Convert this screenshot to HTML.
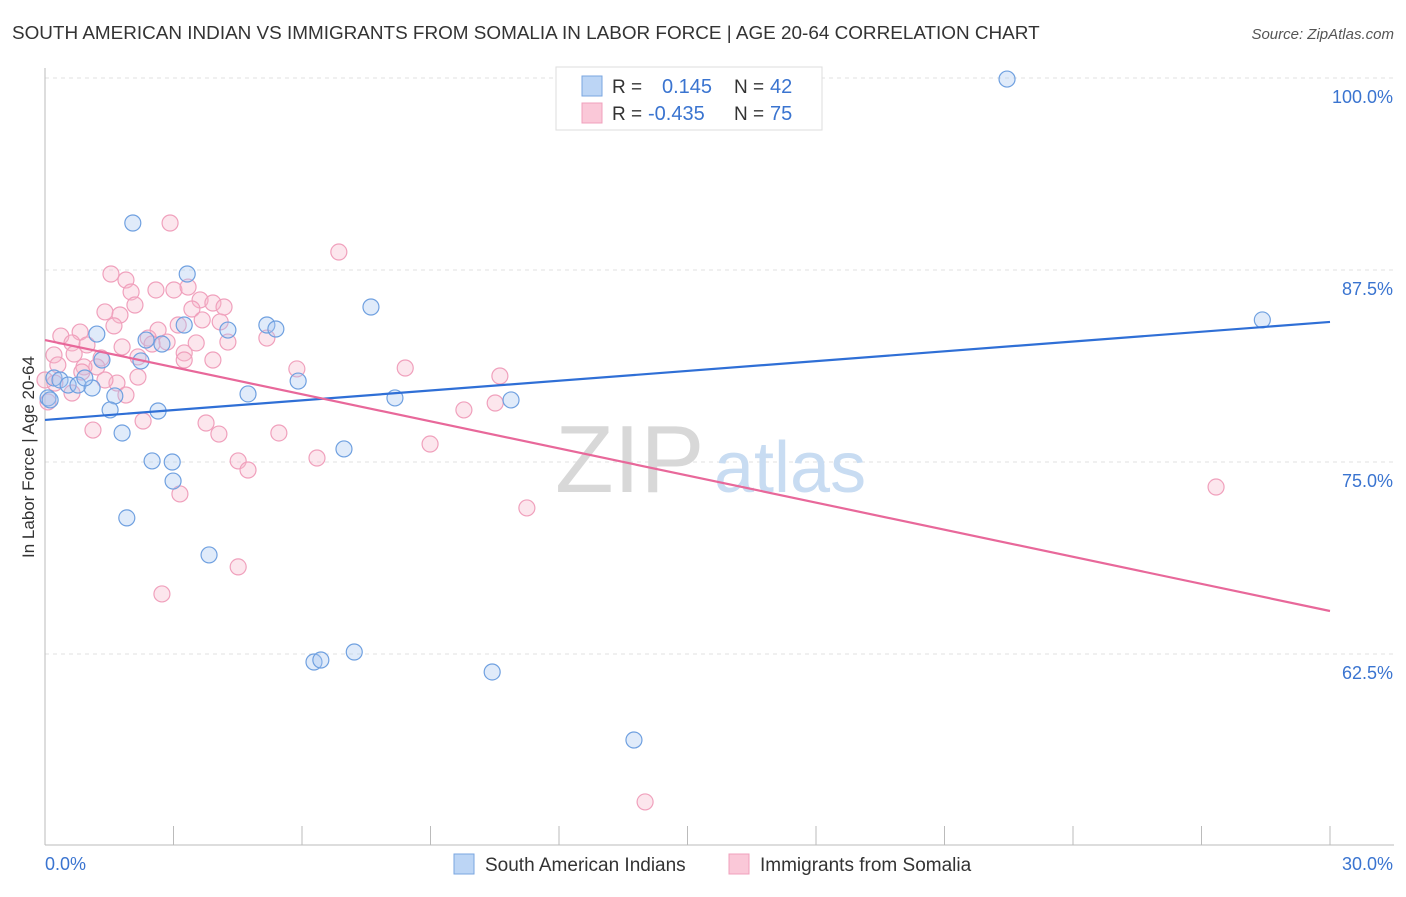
<!DOCTYPE html>
<html><head><meta charset="utf-8">
<style>
body{margin:0;background:#fff;font-family:"Liberation Sans",sans-serif;}
svg text{font-family:"Liberation Sans",sans-serif;}
</style></head>
<body>
<svg id="chart" width="1406" height="892" xmlns="http://www.w3.org/2000/svg">
<text x="12" y="39" font-size="18.9" fill="#333">SOUTH AMERICAN INDIAN VS IMMIGRANTS FROM SOMALIA IN LABOR FORCE | AGE 20-64 CORRELATION CHART</text>
<text x="1394" y="39" font-size="15" fill="#555" font-style="italic" text-anchor="end">Source: ZipAtlas.com</text>
<g id="grid"></g>
<g id="axes"></g>
<text x="555" y="492" font-size="96" fill="#d8d8d8" font-family="Liberation Serif">ZIP</text>
<text x="714" y="492" font-size="72" fill="#c8dcf2">atlas</text>
<g id="pts"></g>
<g id="lines"></g>
<text transform="translate(34,457) rotate(-90)" font-size="17" fill="#333" text-anchor="middle">In Labor Force | Age 20-64</text>
<g>
<rect x="556" y="67" width="266" height="63" fill="#fff" stroke="#ddd"/>
<rect x="582" y="76" width="20" height="20" fill="#bcd5f5" stroke="#7aa6e0"/>
<rect x="582" y="103" width="20" height="20" fill="#fac8d8" stroke="#f0a0bc"/>
<text x="612" y="93" font-size="19" fill="#333">R =</text>
<text x="662" y="93" font-size="20" fill="#3a74d0">0.145</text>
<text x="734" y="93" font-size="19" fill="#333">N =</text>
<text x="770" y="93" font-size="20" fill="#3a74d0">42</text>
<text x="612" y="120" font-size="19" fill="#333">R =</text>
<text x="648" y="120" font-size="20" fill="#3a74d0">-0.435</text>
<text x="734" y="120" font-size="19" fill="#333">N =</text>
<text x="770" y="120" font-size="20" fill="#3a74d0">75</text>
</g>
<g>
<rect x="454" y="854" width="20" height="20" fill="#bcd5f5" stroke="#7aa6e0"/>
<text x="485" y="871" font-size="19" fill="#333">South American Indians</text>
<rect x="729" y="854" width="20" height="20" fill="#fac8d8" stroke="#f0a0bc"/>
<text x="760" y="871" font-size="19" fill="#333">Immigrants from Somalia</text>
</g>
</svg>
<script>
const blueX=[22.46,2.05,3.32,7.61,28.42,5.18,5.39,3.25,4.27,1.21,2.36,2.73,2.24,1.33,0.21,0.35,0.54,0.77,1.10,0.93,5.91,4.74,8.17,10.88,1.63,1.52,2.64,1.80,6.98,2.50,2.97,2.99,1.91,3.83,6.28,6.44,7.22,10.44,13.75,0.07,0.12];
const blueY=[99.93,90.56,87.24,85.09,84.25,83.92,83.66,83.92,83.59,83.33,82.94,82.68,81.58,81.64,80.47,80.34,80.01,80.01,79.82,80.47,80.27,79.43,79.17,79.04,79.30,78.39,78.32,76.89,75.85,75.07,75.00,73.76,71.36,68.95,61.98,62.11,62.63,61.33,56.90,79.17,79.04];
const pinkX=[2.92,6.86,1.54,1.89,2.59,3.01,3.34,2.01,3.62,3.92,4.18,2.10,1.40,1.75,3.43,3.67,4.09,3.11,2.64,1.61,0.37,0.82,0.63,0.98,2.41,2.50,2.85,3.53,4.27,5.18,0.21,0.68,1.31,0.30,1.21,0.91,2.17,3.25,3.92,1.80,3.25,5.88,8.41,10.62,2.17,1.68,0.23,0.63,1.89,9.78,10.51,2.29,1.12,3.76,4.06,5.46,8.99,6.35,4.51,4.74,3.15,11.25,27.34,4.51,2.73,14.01,0.07,0,0.86,1.40];
const pinkY=[90.56,88.67,87.24,86.85,86.20,86.20,86.39,86.07,85.55,85.35,85.09,85.22,84.77,84.57,84.96,84.25,84.12,83.92,83.59,83.86,83.20,83.46,82.75,82.62,83.07,82.68,82.81,82.75,82.81,83.07,81.97,82.03,81.77,81.32,81.19,81.19,81.84,82.10,81.64,82.49,81.64,81.06,81.12,80.60,80.53,80.14,80.14,79.49,79.36,78.39,78.84,77.67,77.08,77.54,76.82,76.89,76.17,75.26,75.07,74.48,72.92,72.01,73.37,68.17,66.41,52.87,78.91,80.34,80.86,80.34];
const blueTrend=[77.74,84.12];
const pinkTrend=[82.94,65.30];
const yTicks=[100,87.5,75,62.5];
const yTickLabels=["100.0%","87.5%","75.0%","62.5%"];
const xTicks=[0,3,6,9,12,15,18,21,24,27,30];
const NS="http://www.w3.org/2000/svg";
const sx=v=>45+v/30*1285;
const sy=v=>78+(100-v)/12.5*192;
function mk(tag,attrs,parent){const e=document.createElementNS(NS,tag);for(const k in attrs)e.setAttribute(k,attrs[k]);parent.appendChild(e);return e;}
const grid=document.getElementById('grid'),axes=document.getElementById('axes');
yTicks.forEach((t,i)=>{
  const l=mk('line',{x1:45,x2:1394,y1:sy(t),y2:sy(t),stroke:'#e2e2e2','stroke-dasharray':'4,4'},grid);
  
  
  const tx=mk('text',{x:1393,y:sy(t)+25,'font-size':18,fill:'#3a74d0','text-anchor':'end'},axes);
  tx.textContent=yTickLabels[i];
  
  
});
const al=mk('line',{x1:45,x2:45,y1:68,y2:845,stroke:'#bbb'},axes);


const bl=mk('line',{x1:45,x2:1394,y1:845,y2:845,stroke:'#bbb'},axes);


xTicks.forEach(t=>{
  const l=mk('line',{x1:sx(t),x2:sx(t),y1:826,y2:845,stroke:'#bbb'},axes);
  
  
});
const x0=mk('text',{x:45,y:870,'font-size':18,fill:'#3a74d0'},axes);x0.textContent='0.0%';


const x1=mk('text',{x:1393,y:870,'font-size':18,fill:'#3a74d0','text-anchor':'end'},axes);x1.textContent='30.0%';


const pts=document.getElementById('pts');
pinkX.forEach((x,i)=>{
  const c=mk('circle',{cx:sx(x),cy:sy(pinkY[i]),r:8,fill:'rgba(246,182,204,0.35)',stroke:'#f0a0bc','stroke-width':1.2},pts);
  
  
});
blueX.forEach((x,i)=>{
  const c=mk('circle',{cx:sx(x),cy:sy(blueY[i]),r:8,fill:'rgba(165,198,240,0.35)',stroke:'#6fa0e0','stroke-width':1.2},pts);
  
  
});
const lines=document.getElementById('lines');
const lb=mk('line',{x1:sx(0),y1:sy(blueTrend[0]),x2:sx(30),y2:sy(blueTrend[1]),stroke:'#2f6fd6','stroke-width':2.2},lines);


const lp=mk('line',{x1:sx(0),y1:sy(pinkTrend[0]),x2:sx(30),y2:sy(pinkTrend[1]),stroke:'#e8689a','stroke-width':2.2},lines);


</script>
</body></html>
